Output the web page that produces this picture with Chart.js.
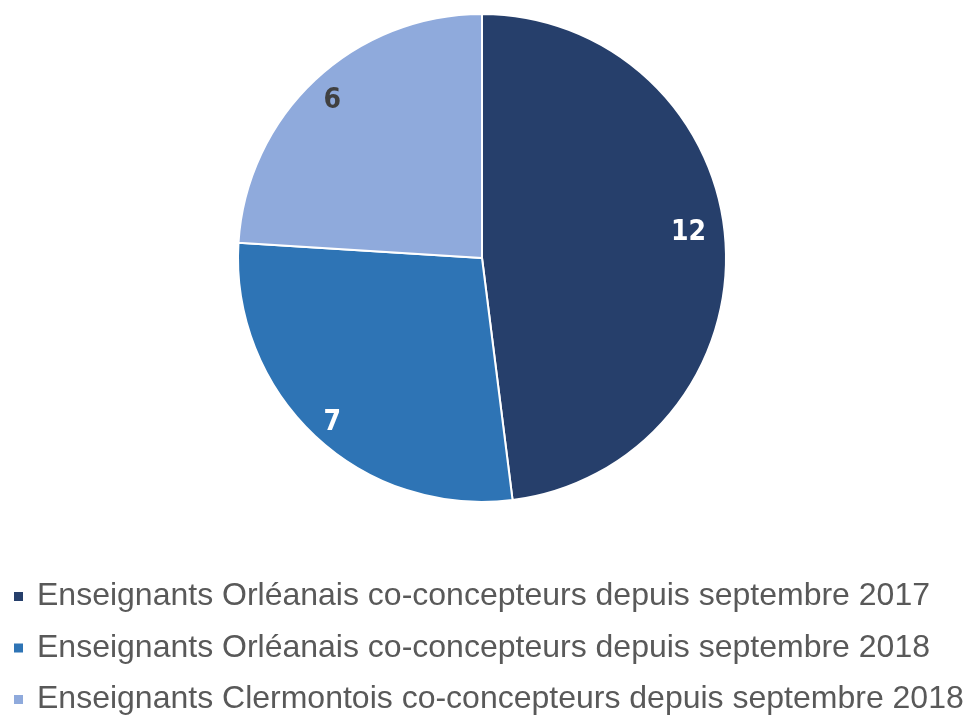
<!DOCTYPE html>
<html>
<head>
<meta charset="utf-8">
<script src="https://cdn.jsdelivr.net/npm/chart.js@4.4.1/dist/chart.umd.min.js"></script>
<style>
  html, body { margin: 0; padding: 0; background: #fff; }
  #wrap { width: 967px; height: 715px; position: relative; }
</style>
</head>
<body>
<div id="wrap"><canvas id="myChart"></canvas></div>
<script>
const categories = [
  'Enseignants Orléanais co-concepteurs depuis septembre 2017',
  'Enseignants Orléanais co-concepteurs depuis septembre 2018',
  'Enseignants Clermontois co-concepteurs depuis septembre 2018'
]
const values = [12, 7, 6]
const sliceColors = ['#263F6B', '#2E74B5', '#8FAADC']
const labelColors = ['#ffffff', '#ffffff', '#404040']
// small nudges of the value labels, in px
const labelNudge = [[-9, -12], [-2, 7], [-2, 0]]

// data labels on the slices
const sliceLabels = {
  id: 'sliceLabels',
  afterDatasetsDraw(chart) {
    const ctx = chart.ctx
    const meta = chart.getDatasetMeta(0)
    ctx.save()
    ctx.font = 'bold 28px "Liberation Sans Narrow", "DejaVu Sans Condensed", Arial, sans-serif'
    ctx.textAlign = 'center'
    ctx.textBaseline = 'middle'
    meta.data.forEach((arc, i) => {
      const p = arc.getProps(['x', 'y', 'startAngle', 'endAngle', 'outerRadius'], true)
      const mid = (p.startAngle + p.endAngle) / 2
      const r = p.outerRadius * 0.885
      ctx.fillStyle = labelColors[i]
      ctx.fillText(String(values[i]),
        p.x + Math.cos(mid) * r + labelNudge[i][0],
        p.y + Math.sin(mid) * r + labelNudge[i][1])
    })
    ctx.restore()
  }
}

// left aligned legend under the pie
const leftLegend = {
  id: 'leftLegend',
  afterDraw(chart) {
    const ctx = chart.ctx
    ctx.save()
    ctx.font = '32px "Liberation Sans", Arial, sans-serif'
    ctx.textBaseline = 'alphabetic'
    ctx.textAlign = 'left'
    categories.forEach((c, i) => {
      const base = 605 + i * 51.5
      ctx.fillStyle = sliceColors[i]
      ctx.fillRect(14, base - 13, 9, 9)
      ctx.fillStyle = '#595959'
      ctx.fillText(c, 37, base)
    })
    ctx.restore()
  }
}

const ctx = document.getElementById('myChart')

const myChart = new Chart(ctx, {
  type: 'pie',
  data: {
    labels: categories,
    datasets: [{
      data: values,
      backgroundColor: sliceColors,
      borderColor: '#ffffff',
      borderWidth: 2
    }]
  },
  options: {
    responsive: true,
    maintainAspectRatio: false,
    animation: false,
    layout: { padding: { top: 13, bottom: 212, left: 237, right: 240 } },
    plugins: {
      legend: { display: false },
      tooltip: { enabled: false }
    }
  },
  plugins: [sliceLabels, leftLegend]
})
</script>
</body>
</html>
